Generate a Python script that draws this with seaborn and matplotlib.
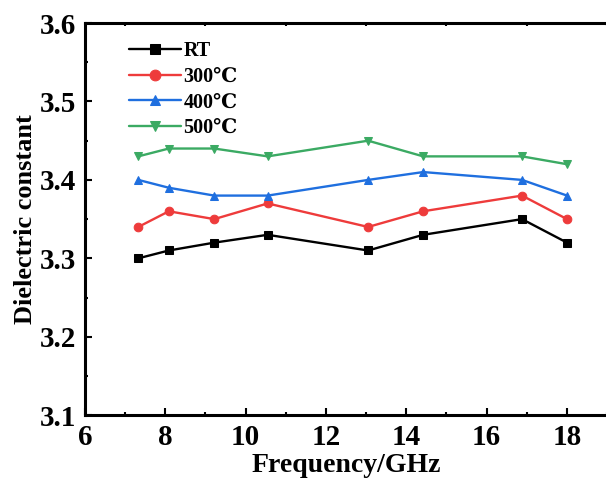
import pandas as pd
import matplotlib
matplotlib.use("Agg")
import matplotlib.pyplot as plt
import seaborn as sns
from matplotlib.ticker import MultipleLocator, FormatStrFormatter

freq = [7.33, 8.09, 9.22, 10.55, 13.05, 14.42, 16.88, 18.0]
rt = [3.30, 3.31, 3.32, 3.33, 3.31, 3.33, 3.35, 3.32]
t300 = [3.34, 3.36, 3.35, 3.37, 3.34, 3.36, 3.38, 3.35]
t400 = [3.40, 3.39, 3.38, 3.38, 3.40, 3.41, 3.40, 3.38]
t500 = [3.43, 3.44, 3.44, 3.43, 3.45, 3.43, 3.43, 3.42]

labels = ["RT", "300℃", "400℃", "500℃"]
colors = ["#000000", "#EE3B3B", "#1F6FDF", "#3BAA63"]
markers = ["s", "o", "^", "v"]

sns.set_theme(style="ticks")
plt.rcParams["font.family"] = ["Liberation Serif", "DejaVu Serif"]
plt.rcParams["font.weight"] = "bold"
plt.rcParams["text.color"] = "black"
plt.rcParams["axes.labelcolor"] = "black"
plt.rcParams["xtick.color"] = "black"
plt.rcParams["ytick.color"] = "black"

fig = plt.figure(figsize=(6.06, 4.8), dpi=100)
ax = fig.add_axes([0.140, 0.135, 0.862, 0.817])

for vals, lab, col, mk in zip([rt, t300, t400, t500], labels, colors, markers):
    df = pd.DataFrame({"freq": freq, "eps": vals})
    sns.lineplot(data=df, x="freq", y="eps", color=col, marker=mk, markersize=6.2,
                 markeredgecolor=col, linewidth=1.7, label=lab, ax=ax)

ax.set_xlim(6, 19)
ax.set_ylim(3.1, 3.6)
ax.xaxis.set_major_locator(MultipleLocator(2))
ax.xaxis.set_minor_locator(MultipleLocator(1))
ax.yaxis.set_major_locator(MultipleLocator(0.1))
ax.yaxis.set_minor_locator(MultipleLocator(0.05))
ax.yaxis.set_major_formatter(FormatStrFormatter("%.1f"))

for s in ["left", "bottom", "top", "right"]:
    ax.spines[s].set_linewidth(2.2)
    ax.spines[s].set_color("black")

ax.tick_params(axis="both", which="major", direction="in", length=5, width=1.5,
               labelsize=21, pad=6)
ax.tick_params(axis="both", which="minor", direction="in", length=2.5, width=1.5)
ax.tick_params(axis="x", which="minor", top=True)
for t in ax.get_xticklabels() + ax.get_yticklabels():
    t.set_fontweight("bold")

ax.set_xlabel("Frequency/GHz", fontsize=20, fontweight="bold", labelpad=2)
ax.set_ylabel("Dielectric constant", fontsize=19, fontweight="bold", labelpad=2)

ax.legend(loc="upper left", bbox_to_anchor=(0.05, 1.0), frameon=False,
          handlelength=2.6, handletextpad=0.1, labelspacing=0.28, markerscale=1.25,
          prop={"weight": "bold", "size": 14.5})

fig.savefig("out.png", dpi=100)
plt.close(fig)
